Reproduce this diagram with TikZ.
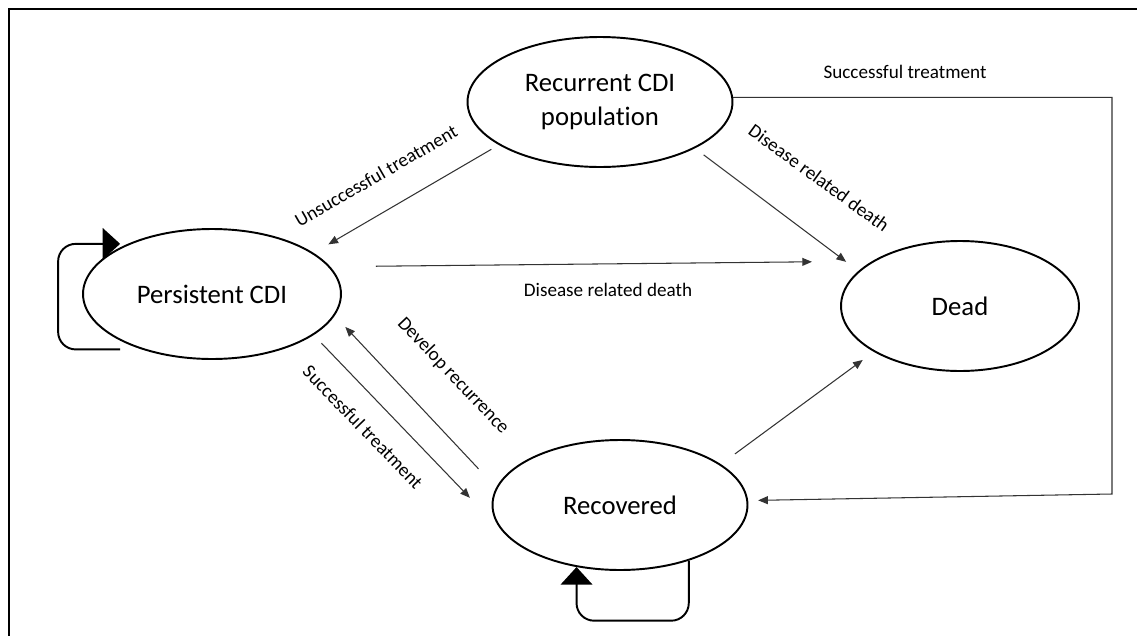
\documentclass[tikz,border=0pt]{standalone}
\usepackage{fontspec}
\setmainfont{Carlito}[Ligatures=NoCommon]
\usetikzlibrary{shapes.geometric}
\usetikzlibrary{arrows.meta}
\usetikzlibrary{calc}

\tikzset{
  hstate/.style={draw,ellipse,line width=1.1pt,minimum height=2.6cm,inner sep=0pt,
    font=\fontsize{15.2}{18.9}\selectfont,align=center},
  trans/.style={draw=black!80,line width=0.6pt,-{Triangle[length=5.5pt,width=4.5pt]}},
  selfloop/.style={line width=1.1pt,rounded corners=10pt,-{Triangle[length=10pt,width=18pt]}},
  lbl/.style={font=\fontsize{10.9}{13}\selectfont,inner sep=0pt},
}

\begin{document}
\begin{tikzpicture}[x=0.02cm,y=-0.02cm]
    \useasboundingbox (0,0) rectangle (1137,636);
    \draw[line width=1.1pt] (9,636) -- (9,9) -- (1137,9);

    % health states
    \node[hstate,minimum width=5.3cm] (rec) at (600,102) {Recurrent CDI\\population};
    \node[hstate,minimum width=5.16cm] (per) at (212,294) {Persistent CDI};
    \node[hstate,minimum width=4.76cm] (dead) at (960,306) {Dead};
    \node[hstate,minimum width=5.1cm] (recov) at (620,505) {Recovered};
    \coordinate (bend) at (1112,494);

    % transitions
    \draw[trans,shorten <=4.9pt,shorten >=9.7pt] (rec.203) -- (per.22);
    \draw[trans,shorten <=25.9pt,shorten >=34.2pt] (per.13) -- (dead.153);
    \draw[trans,shorten <=6.2pt,shorten >=8.7pt] (rec.334) -- (dead.161);
    \draw[trans,shorten <=6.4pt,shorten >=28.4pt] (per.338) -- (recov.194);
    \draw[trans,shorten <=14.6pt,shorten >=8.8pt] (recov.172) -- (per.350);
    \draw[trans,shorten <=9.9pt,shorten >=7.8pt] (recov.22) -- (dead.208);
    \draw[trans,shorten >=5.7pt] (rec.2) -| (bend) -- (recov.2);

    % staying in the same state
    \draw[selfloop] ([yshift=-5pt]per.south west) -- ++(-62,0) |- ([yshift=2pt]per.north west);
    \draw[selfloop] (recov.321) -- ++(0,60) -| (recov.235);

    % labels
    \node[lbl,rotate=30] (unsucc) at (376,176) {Unsuccessful treatment};
    \node[lbl] (deathper) at (608,290) {Disease related death};
    \node[lbl,rotate=-36] (deathrec) at (819,178) {Disease related death};
    \node[lbl,rotate=-46] (succper) at (363,427) {Successful treatment};
    \node[lbl,rotate=-46.5] (develop) at (453,376) {Develop recurrence};
    \node[lbl] (succrec) at (905,72) {Successful treatment};
\end{tikzpicture}
\end{document}
